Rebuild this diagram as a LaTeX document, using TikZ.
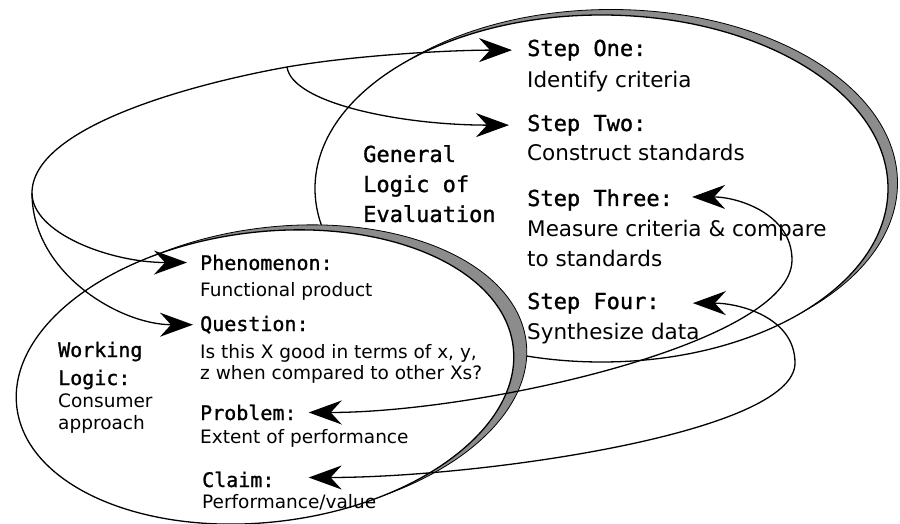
\documentclass[tikz,border=0pt]{standalone}
\usepackage{fontspec}
\setmainfont{DejaVu Sans}
\newfontfamily\headfont{DejaVu Sans Mono}[FakeBold=1.2]
\usetikzlibrary{arrows.meta}

\begin{document}
\begin{tikzpicture}[
  x=1pt, y=1pt,
  barb/.tip={Stealth[length=33pt, width=24pt, inset=11pt]},
  rim/.style={fill=black!45, draw=black, line width=0.8pt},
  oval/.style={fill=white, draw=black, line width=1.3pt},
  heading/.style={font=\headfont\fontsize{22}{26}\selectfont, anchor=base west, inner sep=0pt},
  detail/.style={font=\fontsize{21.5}{26}\selectfont, anchor=base west, inner sep=0pt},
  wheading/.style={heading, font=\headfont\fontsize{20}{24}\selectfont},
  wdetail/.style={detail, font=\fontsize{18.5}{22}\selectfont},
  link/.style={line width=1.3pt, draw=black}
]
\useasboundingbox (0,0) rectangle (900,523);

% general logic oval
\draw[rim]  (611,340) ellipse [x radius=286.5pt, y radius=173.5pt];
\draw[oval] (601.5,334.5) ellipse [x radius=286.5pt, y radius=173.5pt];
% working logic oval
\draw[rim, rotate around={7:(278,151)}]  (278,151) ellipse [x radius=250pt, y radius=145pt];
\draw[oval, rotate around={7:(265,146)}] (265,146) ellipse [x radius=250pt, y radius=145pt];

\node[heading] (general)  at (363,361) {General};
\node[heading] (general2) at (363,331) {Logic of};
\node[heading] (general3) at (363,301) {Evaluation};

\node[heading] (stepone)        at (527,467) {Step One:};
\node[detail]  (stepone-txt)    at (527,435) {Identify criteria};
\node[heading] (steptwo)        at (527,392) {Step Two:};
\node[detail]  (steptwo-txt)    at (527,362) {Construct standards};
\node[heading] (stepthree)      at (527,317) {Step Three:};
\node[detail]  (stepthree-txt)  at (527,287) {Measure criteria \& compare};
\node[detail]  (stepthree-txt2) at (527,257) {to standards};
\node[heading] (stepfour)       at (527,214) {Step Four:};
\node[detail]  (stepfour-txt)   at (527,184) {Synthesize data};

\node[wheading] (working)  at (58,166) {Working};
\node[wheading] (working2) at (58,138) {Logic:};
\node[wdetail]  (working3) at (58,116) {Consumer};
\node[wdetail]  (working4) at (58,94)  {approach};

\node[wheading] (phen)       at (200,253) {Phenomenon:};
\node[wdetail]  (phen-txt)   at (200,226) {Functional product};
\node[wheading] (quest)      at (200,192) {Question:};
\node[wdetail]  (quest-txt)  at (200,165) {Is this X good in terms of x, y,};
\node[wdetail]  (quest-txt2) at (200,144) {z when compared to other Xs?};
\node[wheading] (prob)       at (200,103) {Problem:};
\node[wdetail]  (prob-txt)   at (200,80)  {Extent of performance};
\node[wheading] (claim)      at (202,36)  {Claim:};
\node[wdetail]  (claim-txt)  at (202,15)  {Performance/value};

\coordinate (fork) at (287,456);
\coordinate (bend) at (32,330);
\coordinate (turnthree) at (792,263);
\coordinate (turnfour) at (795,160);

\draw[link,{barb}-{barb}] ([xshift=-13pt]phen.west) .. controls +(-77,0) and +(0,-40) .. (bend)
  .. controls +(0,65) and +(-100,-18) .. (fork)
  .. controls +(70,12) and +(-62,0) .. ([xshift=-15pt]stepone.west);
\draw[link,-{barb}] (bend) .. controls +(0,-80) and +(-73,0) .. ([xshift=-7pt]quest.west);
\draw[link,-{barb}] (fork) .. controls +(5,-36) and +(-109,0) .. ([xshift=-18pt]steptwo.west);
\draw[link,{barb}-{barb}] ([xshift=19pt,yshift=3pt]stepthree.east) .. controls +(46,0) and +(0,46) .. (turnthree)
  .. controls +(0,-83) and +(172,0) .. ([xshift=12pt]prob.east);
\draw[link,{barb}-{barb}] ([xshift=33pt]stepfour.east) .. controls +(46,0) and +(0,46) .. (turnfour)
  .. controls +(0,-70) and +(172,0) .. ([xshift=34pt,yshift=2pt]claim.east);
\end{tikzpicture}
\end{document}
